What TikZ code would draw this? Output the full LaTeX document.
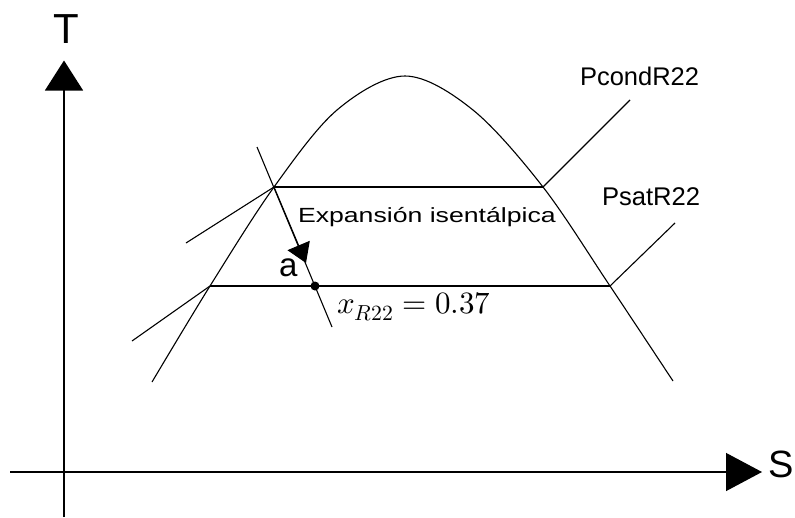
\documentclass[tikz,border=0pt]{standalone}
\usepackage{fontspec}
\usepackage{unicode-math}
\setmainfont{Liberation Sans}
\setmathfont{Latin Modern Math}
\usetikzlibrary{arrows.meta}
\tikzset{
  thin line/.style={line width=1.1pt, black},
  axis/.style={line width=1.3pt, black},
  lbl/.style={inner sep=0pt, outer sep=0pt, anchor=base west},
}
\begin{document}
\begin{tikzpicture}[x=1pt,y=-1pt]
\useasboundingbox (0,0) rectangle (795,517);
% coordinates
\coordinate (yb) at (64,517);
\coordinate (yt) at (64,60.5);
\coordinate (xl) at (10,472);
\coordinate (xr) at (762,472);
\coordinate (L1) at (274,187);
\coordinate (R1) at (543,187);
\coordinate (L2) at (210,286);
\coordinate (R2) at (610,286);
\coordinate (P) at (315,286);
\coordinate (isoA) at (257,147);
\coordinate (isoB) at (332,327);
\coordinate (atip) at (306,263);
\coordinate (cL1) at (186,243);
\coordinate (cL2) at (132,341);
\coordinate (cR1) at (630,100);
\coordinate (cR2) at (675,223);
% axes
\draw[axis,-{Triangle[length=30pt,width=38pt]}] (yb) -- (yt);
\draw[axis,-{Triangle[length=36pt,width=38pt]}] (xl) -- (xr);
\node[lbl, anchor=base] (T) at (66,43) {\fontsize{42}{48}\selectfont T};
\node[lbl] (S) at (768,477) {\fontsize{38}{44}\selectfont S};
% dome
\draw[thin line] plot[smooth, tension=0.55] coordinates {(152,382) (210,286) (274,187) (337,110) (405,76) (473,110) (543,187) (610,286) (673,381)};
% isobars
\draw[thin line] (L1) -- (R1);
\draw[thin line] (L2) -- (R2);
\draw[thin line] (L1) -- (cL1);
\draw[thin line] (L2) -- (cL2);
\draw[thin line] (R1) -- (cR1);
\draw[thin line] (R2) -- (cR2);
% isenthalpic expansion
\draw[thin line] (isoA) -- (isoB);
\draw[thin line,-{Triangle[length=19pt,width=24pt]}] (L1) -- (atip);
\fill (P) circle (4.5);
% labels
\node[lbl] (pc) at (580,85) {\fontsize{25.5}{30}\selectfont PcondR22};
\node[lbl] (ps) at (602,205) {\fontsize{25.6}{30}\selectfont PsatR22};
\node[lbl] (exp) at (298,222) {\scalebox{1.3}[1]{\fontsize{20.5}{24}\selectfont Expansión isentálpica}};
\node[lbl] (a) at (279,276) {\fontsize{33}{38}\selectfont a};
\node[lbl] (xq) at (337,313) {\fontsize{31}{36}\selectfont $x_{R22}=0.37$};
\end{tikzpicture}
\end{document}
